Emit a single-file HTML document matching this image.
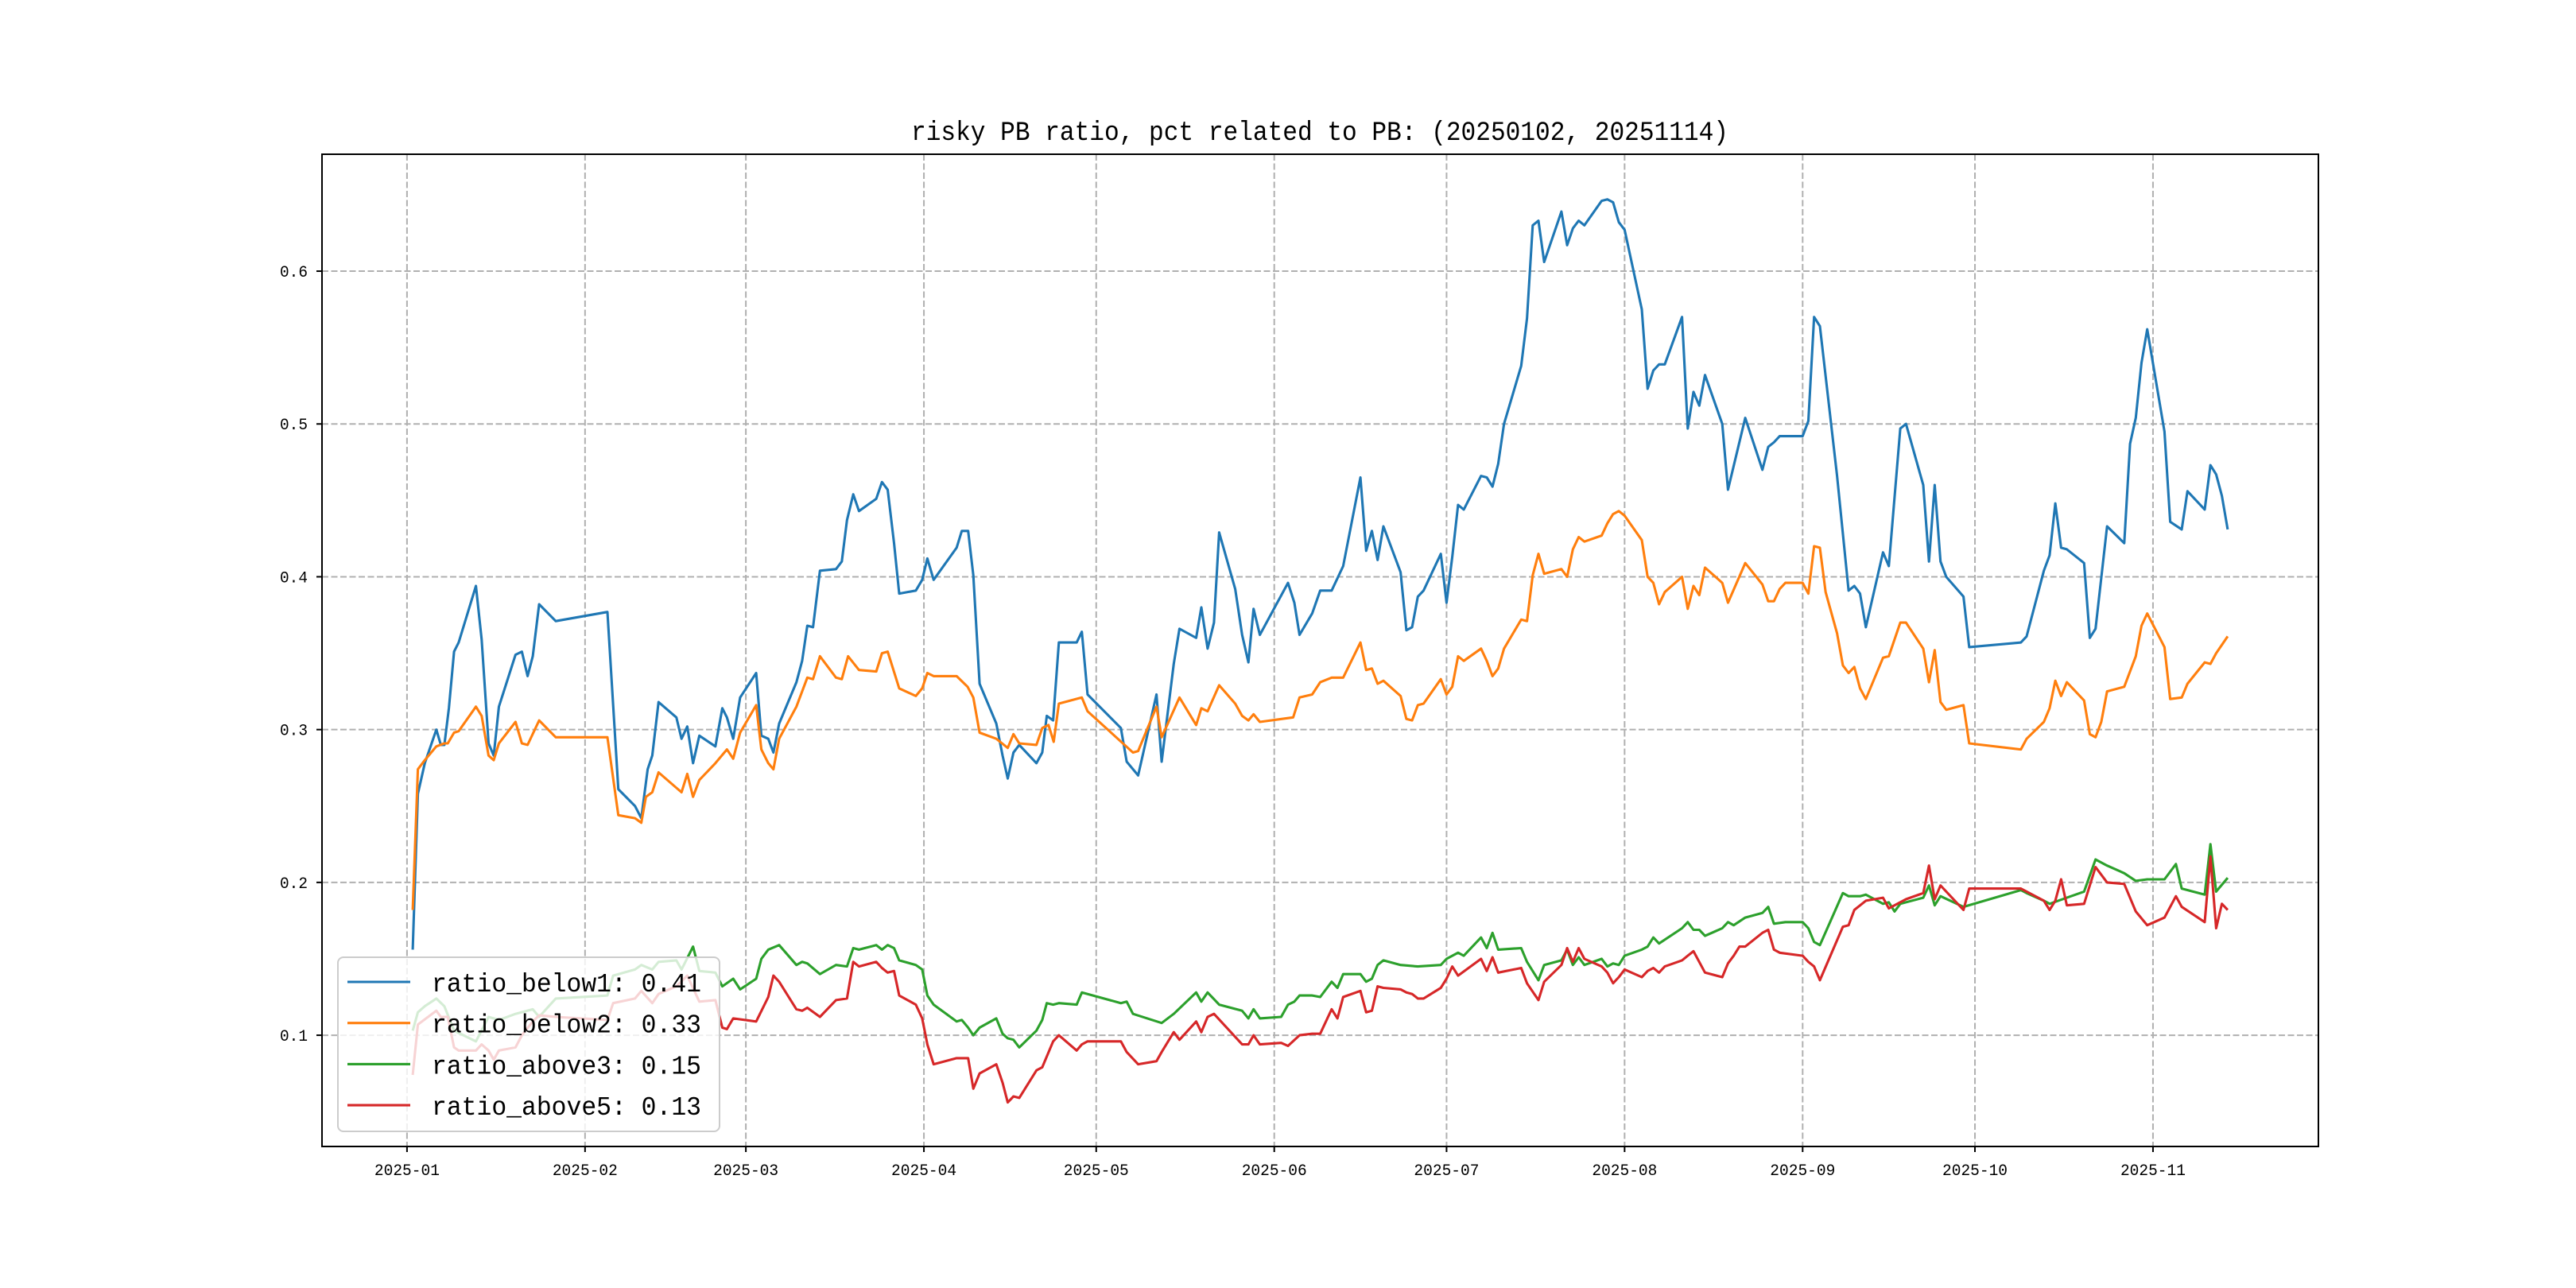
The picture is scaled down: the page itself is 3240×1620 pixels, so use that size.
<!DOCTYPE html>
<html><head><meta charset="utf-8"><style>
html,body{margin:0;padding:0;background:#fff;}
svg{display:block;}
text{font-family:"Liberation Mono","Noto Sans CJK SC",monospace;fill:#000;}
</style></head><body>
<svg id="chart" width="3240" height="1620" viewBox="0 0 3240 1620" xmlns="http://www.w3.org/2000/svg">
<rect x="0" y="0" width="3240" height="1620" fill="#fff"/>
<text x="1660" y="176" font-size="34" text-anchor="middle" textLength="1028" lengthAdjust="spacingAndGlyphs">risky PB ratio, pct related to PB: (20250102, 20251114)</text>
<g id="grid"></g>
<g id="series"></g>
<rect x="405" y="194" width="2511" height="1248" fill="none" stroke="#000" stroke-width="2"/>
<g id="axes"></g>
<g id="legend"></g>
</svg>
<script>
const monthLabels=["2025-01","2025-02","2025-03","2025-04","2025-05","2025-06","2025-07","2025-08","2025-09","2025-10","2025-11"];
const monthDays=[0,31,59,90,120,151,181,212,243,273,304];
const yTicks=[0.1,0.2,0.3,0.4,0.5,0.6];
const seriesNames=["ratio_below1","ratio_below2","ratio_above3","ratio_above5"];
const seriesLast=["0.41","0.33","0.15","0.13"];
const seriesColors=["#1f77b4","#ff7f0e","#2ca02c","#d62728"];
const below1Days=[1,1.9,3.1,5.1,5.9,6.5,7.3,8.2,9.0,12.0,13.0,14.2,15.1,16.0,18.9,20.0,21.0,21.9,23.0,25.9,34.9,36.8,39.7,40.8,41.9,42.7,43.8,46.9,47.8,48.8,49.8,50.9,53.7,54.9,55.7,56.8,58.0,60.8,61.7,62.9,63.8,64.8,67.8,68.8,69.7,70.7,71.9,74.7,75.7,76.6,77.7,78.7,81.7,82.7,83.7,84.8,85.7,88.6,89.7,90.6,91.7,95.7,96.6,97.7,98.6,99.7,102.6,103.7,104.6,105.6,106.6,109.6,110.6,111.4,112.5,113.5,116.6,117.5,118.5,124.3,125.3,127.3,130.5,131.4,133.5,134.5,137.4,138.3,139.4,140.5,141.4,144.2,145.4,146.5,147.4,148.5,153.4,154.5,155.4,
157.6,159,161,163,166,167,168,169,170,173,174,175,176,177,180,181,182,183,184,187,188,189,190,191,194,195,196,197,198,201,202,203,204,205,208,209,210,211,212,215,216,217,218,219,222,223,224,225,226,229,230,233,236,237,238,239,243,244,245,246,249,251,252,253,254,257,258,260,261,264,265,266,267,268,271,272,281,282,285,286,287,288,289,292,293,294,296,299,300,301,302,303,306,307,309,310,313,314,315,316,317];
const below1Vals=[.156,.258,.278,.30,.29,.29,.314,.351,.357,.394,.359,.291,.283,.315,.349,.351,.335,.348,.382,.371,.377,.261,.25,.242,.274,.283,.318,.308,.294,.302,.278,.296,.289,.314,.308,.294,.321,.337,.296,.294,.285,.304,.331,.345,.368,.367,.404,.405,.41,.437,.454,.443,.451,.462,.457,.422,.389,.391,.398,.412,.398,.419,.43,.43,.401,.33,.304,.283,.268,.285,.29,.278,.285,.309,.306,.357,.357,.364,.323,.301,.279,.27,.323,.279,.343,.366,.36,.38,.353,.37,.429,.392,.362,.344,.379,.362,.396,.383,.362,
.376,.391,.391,.407,.465,.417,.43,.411,.433,.403,.365,.367,.387,.391,.415,.383,.413,.447,.444,.466,.465,.459,.474,.50,.538,.569,.63,.633,.606,.639,.617,.628,.633,.63,.646,.647,.645,.632,.627,.575,.523,.535,.539,.539,.57,.497,.521,.512,.532,.50,.457,.504,.47,.485,.488,.492,.492,.502,.57,.564,.466,.391,.394,.389,.367,.416,.407,.497,.50,.46,.41,.46,.41,.40,.387,.354,.357,.361,.404,.414,.448,.419,.418,.409,.36,.366,.433,.422,.487,.504,.54,.562,.495,.436,.431,.456,.444,.473,.467,.453,.431];
const below2Days=[1.0,1.9,3.1,5.1,6.5,7.1,8.2,9.0,12.0,13.0,14.2,15.1,16.0,18.9,20.0,21.0,23.0,25.9,34.9,36.8,39.7,40.8,41.6,42.7,43.8,47.8,48.8,49.8,50.9,53.7,55.7,56.8,58.0,60.8,61.7,62.9,63.8,64.8,67.8,69.7,70.7,71.9,74.7,75.7,76.8,78.7,81.7,82.7,83.7,85.7,88.6,89.7,90.6,91.7,95.7,97.6,98.6,99.7,102.6,104.6,105.6,106.6,109.6,110.6,111.7,112.6,113.5,117.5,118.5,126.4,127.3,130.5,131.4,134.5,137.4,138.3,139.4,141.4,144.2,145.4,146.5,147.4,148.5,154.3,155.4,
157.6,159,161,163,166,167,168,169,170,173,174,175,176,177,180,181,182,183,184,187,188,189,190,191,194,195,196,197,198,201,202,203,204,205,208,209,210,211,212,215,216,217,218,219,222,223,224,225,226,229,230,233,236,237,238,239,240,243,244,245,246,247,249,250,251,252,253,254,257,258,260,261,264,265,266,267,268,271,272,281,282,285,286,287,288,289,292,293,294,295,296,299,301,302,303,306,307,309,310,313,314,315,317];
const below2Vals=[.182,.274,.28,.289,.291,.291,.298,.299,.315,.309,.283,.28,.291,.305,.291,.29,.306,.295,.295,.244,.242,.239,.256,.259,.272,.259,.271,.256,.267,.278,.287,.281,.298,.316,.287,.278,.274,.294,.315,.334,.333,.348,.334,.333,.348,.339,.338,.35,.351,.327,.322,.327,.337,.335,.335,.328,.321,.298,.294,.288,.297,.291,.29,.301,.303,.292,.317,.321,.312,.285,.286,.315,.295,.321,.303,.314,.312,.329,.317,.309,.306,.31,.305,.308,.321,
.323,.331,.334,.334,.357,.339,.34,.33,.332,.322,.307,.306,.316,.317,.333,.323,.328,.348,.345,.353,.345,.335,.34,.353,.372,.371,.401,.415,.402,.405,.40,.418,.426,.423,.427,.435,.441,.443,.44,.424,.40,.396,.382,.39,.40,.379,.394,.388,.406,.396,.383,.409,.395,.384,.384,.392,.396,.396,.389,.42,.419,.39,.363,.342,.337,.341,.327,.32,.347,.348,.37,.37,.353,.331,.352,.318,.313,.316,.291,.287,.294,.305,.314,.332,.322,.331,.319,.297,.295,.305,.325,.328,.348,.368,.376,.354,.32,.321,.33,.344,.343,.35,.361];
const above3Days=[1.0,1.9,3.1,5.1,6.5,8.2,12.0,14.2,16.0,18.9,21.9,23.0,25.9,34.9,35.9,39.7,40.8,42.7,43.8,46.9,47.8,49.8,50.9,53.7,54.9,56.8,58.0,60.8,61.7,62.9,64.8,67.8,68.8,69.7,71.9,74.7,76.6,77.7,78.7,81.7,82.7,83.7,84.8,85.7,88.6,89.7,90.6,91.7,95.7,96.6,97.7,98.6,99.7,102.6,103.7,104.6,105.6,106.6,109.6,110.6,111.4,112.5,113.5,116.6,117.5,118.5,124.3,125.3,126.4,131.4,133.5,137.4,138.3,139.4,141.4,145.4,146.5,147.4,148.5,152.2,153.4,154.5,155.4,
157.6,159,161,162,163,166,167,168,169,170,173,176,180,181,183,184,187,188,189,190,194,195,197,198,201,202,203,204,205,208,209,210,211,212,215,216,217,218,222,223,224,225,226,229,230,231,233,236,237,238,240,243,244,245,246,250,251,253,254,257,258,259,260,264,265,266,267,271,281,282,285,286,289,292,294,296,299,301,303,306,308,309,313,314,315,317];
const above3Vals=[.103,.115,.119,.124,.119,.103,.096,.112,.11,.114,.117,.112,.124,.126,.139,.143,.146,.143,.148,.149,.143,.158,.142,.141,.132,.137,.13,.137,.15,.156,.159,.146,.148,.147,.14,.146,.145,.157,.156,.159,.156,.159,.157,.149,.146,.143,.126,.12,.109,.11,.105,.10,.105,.111,.101,.098,.097,.092,.103,.11,.121,.12,.121,.12,.128,.127,.121,.122,.114,.108,.114,.128,.122,.128,.12,.116,.111,.117,.111,.112,.12,.122,.126,
.126,.125,.135,.131,.14,.14,.135,.137,.146,.149,.146,.145,.146,.15,.154,.152,.164,.157,.167,.156,.157,.148,.136,.146,.149,.156,.146,.151,.146,.15,.145,.147,.146,.152,.156,.158,.164,.16,.17,.174,.169,.169,.165,.17,.174,.172,.177,.18,.184,.173,.174,.174,.17,.161,.159,.193,.191,.191,.192,.186,.187,.181,.186,.19,.198,.185,.191,.184,.195,.193,.188,.186,.19,.194,.215,.211,.206,.201,.202,.202,.212,.196,.192,.225,.194,.203];
const above5Days=[1.0,1.9,5.1,5.9,7.1,8.2,9.0,12.0,13.0,14.2,15.1,16.0,18.9,20.0,21.9,23.0,25.9,34.9,35.9,39.7,40.8,42.7,43.8,46.9,48.8,50.9,53.7,54.9,55.7,56.8,60.8,62.9,63.8,64.8,67.8,68.8,69.7,71.9,74.7,76.6,77.7,78.7,81.7,82.7,83.7,84.8,85.7,88.6,89.7,90.6,91.7,95.7,97.7,98.6,99.7,102.6,103.7,104.6,105.6,106.6,109.6,110.6,112.5,113.5,116.6,117.5,118.5,124.3,125.3,127.3,130.5,131.4,133.5,134.5,137.4,138.3,139.4,140.5,145.4,146.5,147.4,148.5,152.2,153.4,155.4,
157.6,159,161,162,163,166,167,168,169,170,173,174,175,176,177,180,181,182,183,187,188,189,190,194,195,197,198,201,202,203,204,205,208,209,210,211,212,215,216,217,218,219,222,223,224,226,229,230,231,232,233,236,237,238,239,243,244,245,246,250,251,252,254,257,258,261,264,265,266,267,271,272,281,285,286,287,288,289,292,294,296,299,301,303,306,308,309,313,314,315,316,317];
const above5Vals=[.074,.107,.116,.112,.112,.092,.09,.09,.094,.09,.084,.09,.092,.10,.109,.113,.112,.11,.121,.124,.129,.121,.127,.132,.139,.122,.123,.105,.104,.111,.109,.125,.139,.135,.117,.116,.118,.112,.123,.124,.148,.145,.148,.144,.141,.142,.126,.12,.111,.094,.081,.085,.085,.065,.075,.081,.069,.056,.06,.059,.077,.079,.096,.10,.09,.094,.096,.096,.089,.081,.083,.089,.102,.097,.109,.102,.112,.114,.094,.094,.10,.094,.095,.093,.10,
.101,.101,.117,.111,.125,.129,.115,.116,.132,.131,.13,.128,.127,.124,.124,.131,.137,.145,.139,.15,.142,.151,.141,.144,.134,.123,.135,.146,.157,.148,.157,.15,.145,.141,.134,.138,.143,.138,.142,.144,.141,.145,.149,.152,.155,.141,.138,.147,.152,.158,.158,.167,.169,.156,.154,.152,.148,.145,.136,.171,.172,.182,.188,.19,.183,.189,.193,.211,.189,.198,.182,.196,.196,.188,.182,.188,.202,.185,.186,.21,.20,.199,.181,.172,.177,.191,.184,.174,.217,.17,.186,.182];

const NS="http://www.w3.org/2000/svg";
const X0=405,X1=2916,Y0=194,Y1=1442;
const dMin=-14.8,dMax=332.8,vMin=0.0272,vMax=0.6765;
function xs(d){return X0+(d-dMin)/(dMax-dMin)*(X1-X0);}
function ys(v){return Y1-(v-vMin)/(vMax-vMin)*(Y1-Y0);}
function mk(tag,attrs,parent){const e=document.createElementNS(NS,tag);for(const k in attrs)e.setAttribute(k,attrs[k]);parent.appendChild(e);return e;}
const grid=document.getElementById('grid'),axes=document.getElementById('axes'),ser=document.getElementById('series'),leg=document.getElementById('legend');
monthDays.forEach((d,i)=>{
  const x=xs(d);
  const g=mk('line',{x1:x,x2:x,y1:Y0,y2:Y1,stroke:'#b0b0b0','stroke-width':2,'stroke-dasharray':'8,3.5'},grid);
  
  
  const t=mk('line',{x1:x,x2:x,y1:Y1,y2:Y1+7,stroke:'#000','stroke-width':2},axes);
  
  
  const l=mk('text',{x:x,y:Y1+36,'font-size':20,'text-anchor':'middle',textLength:82,lengthAdjust:'spacingAndGlyphs'},axes);
  l.textContent=monthLabels[i];
  
  
});
yTicks.forEach(v=>{
  const y=ys(v);
  const g=mk('line',{x1:X0,x2:X1,y1:y,y2:y,stroke:'#b0b0b0','stroke-width':2,'stroke-dasharray':'8,3.5'},grid);
  
  
  const t=mk('line',{x1:X0-7,x2:X0,y1:y,y2:y,stroke:'#000','stroke-width':2},axes);
  
  
  const l=mk('text',{x:387,y:y+7,'font-size':20,'text-anchor':'end',textLength:35,lengthAdjust:'spacingAndGlyphs'},axes);
  l.textContent=v.toFixed(1);
  
  
});
const allDays=[below1Days,below2Days,above3Days,above5Days];
const allVals=[below1Vals,below2Vals,above3Vals,above5Vals];
allDays.forEach((days,s)=>{
  const vals=allVals[s];
  const pts=days.map((d,i)=>xs(d).toFixed(1)+','+ys(vals[i]).toFixed(1)).join(' ');
  const p=mk('polyline',{points:pts,fill:'none',stroke:seriesColors[s],'stroke-width':3.1,'stroke-linejoin':'round'},ser);
  
  
});
const box=mk('rect',{x:425,y:1204,width:480,height:219,rx:7,fill:'#fff','fill-opacity':0.8,stroke:'#cccccc','stroke-width':2},leg);


seriesNames.forEach((n,i)=>{
  const y=1235+i*51.7;
  const ln=mk('line',{x1:437,x2:516,y1:y,y2:y,stroke:seriesColors[i],'stroke-width':3.1},leg);
  
  
  const t=mk('text',{x:543,y:y+12,'font-size':33,textLength:339,lengthAdjust:'spacingAndGlyphs'},leg);
  t.textContent=n+': '+seriesLast[i];
  
  
});
</script>
</body></html>
